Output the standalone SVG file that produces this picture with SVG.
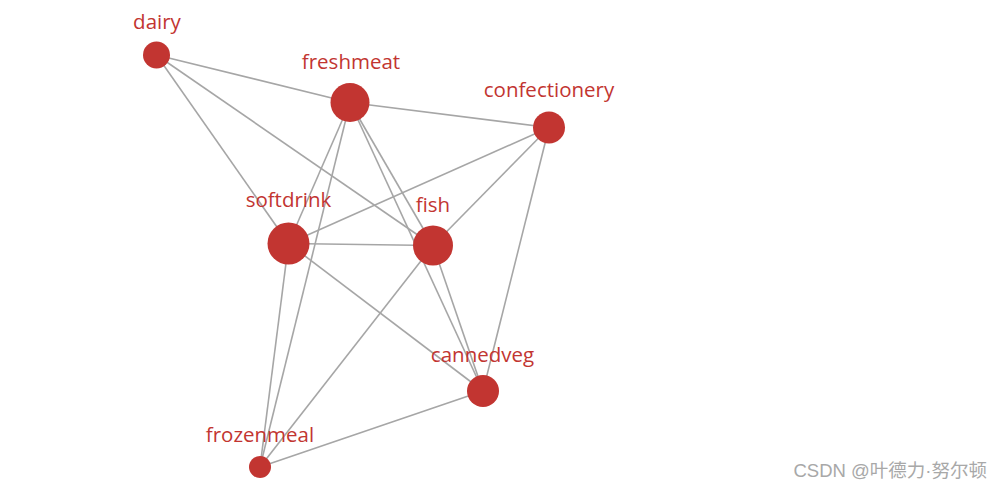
<svg xmlns="http://www.w3.org/2000/svg" width="1002" height="490" viewBox="0 0 1002 490">
<style>
.e{stroke:#a6a6a6;stroke-width:1.6;fill:none}
.n{fill:#c23531}
.l{fill:#c23531;font-family:"Open Sans","Liberation Sans",sans-serif;font-size:20.5px;text-anchor:middle}
.wm{fill:#a8a8a8;font-family:"Liberation Sans","Noto Sans CJK SC",sans-serif;font-size:18.5px;text-anchor:end}
</style>
<rect width="1002" height="490" fill="#ffffff"/>
<g id="connectors">
<line class="e" x1="156.5" y1="55" x2="350" y2="102.5"/>
<line class="e" x1="156.5" y1="55" x2="288.5" y2="243.5"/>
<line class="e" x1="156.5" y1="55" x2="433" y2="245.5"/>
<line class="e" x1="350" y1="102.5" x2="549" y2="127.5"/>
<line class="e" x1="350" y1="102.5" x2="288.5" y2="243.5"/>
<line class="e" x1="350" y1="102.5" x2="260" y2="467"/>
<line class="e" x1="350" y1="102.5" x2="433" y2="245.5"/>
<line class="e" x1="350" y1="102.5" x2="483" y2="391"/>
<line class="e" x1="549" y1="127.5" x2="288.5" y2="243.5"/>
<line class="e" x1="549" y1="127.5" x2="433" y2="245.5"/>
<line class="e" x1="549" y1="127.5" x2="483" y2="391"/>
<line class="e" x1="288.5" y1="243.5" x2="433" y2="245.5"/>
<line class="e" x1="288.5" y1="243.5" x2="483" y2="391"/>
<line class="e" x1="288.5" y1="243.5" x2="260" y2="467"/>
<line class="e" x1="433" y1="245.5" x2="483" y2="391"/>
<line class="e" x1="433" y1="245.5" x2="260" y2="467"/>
<line class="e" x1="483" y1="391" x2="260" y2="467"/>
</g>
<g id="dairy"><circle class="n" cx="156.5" cy="55" r="13.5"/><text class="l" x="157" y="29">dairy</text></g>
<g id="freshmeat"><circle class="n" cx="350" cy="102.5" r="19.5"/><text class="l" x="351" y="69">freshmeat</text></g>
<g id="confectionery"><circle class="n" cx="549" cy="127.5" r="16"/><text class="l" x="549" y="97">confectionery</text></g>
<g id="softdrink"><circle class="n" cx="288.5" cy="243.5" r="21"/><text class="l" x="288.5" y="207">softdrink</text></g>
<g id="fish"><circle class="n" cx="433" cy="245.5" r="20"/><text class="l" x="433" y="211.5">fish</text></g>
<g id="cannedveg"><circle class="n" cx="483" cy="391" r="16"/><text class="l" x="482.5" y="362">cannedveg</text></g>
<g id="frozenmeal"><circle class="n" cx="260" cy="467" r="11"/><text class="l" x="260" y="441.5">frozenmeal</text></g>
<text class="wm" x="987" y="477">CSDN @叶德力·努尔顿</text>
</svg>
